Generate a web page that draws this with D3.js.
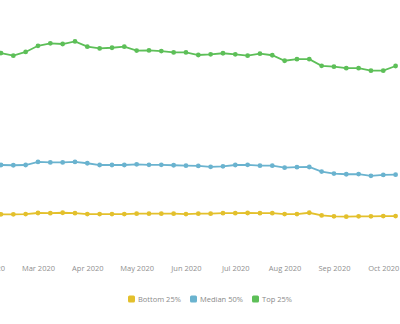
<!DOCTYPE html>
<html>
<head>
<meta charset="utf-8">
<script src="https://cdn.jsdelivr.net/npm/d3@7"></script>
<style>
  body { margin: 0; background: #fff; }
  svg { display: block; font-family: "Open Sans", "Noto Sans", sans-serif; }
</style>
</head>
<body>
<div id="chart"></div>
<script>
const width = 400
const height = 324

// weekly periods, 4 per month
const weeks = [
    "2020-02 W2", "2020-02 W3", "2020-02 W4",
    "2020-03 W1", "2020-03 W2", "2020-03 W3", "2020-03 W4",
    "2020-04 W1", "2020-04 W2", "2020-04 W3", "2020-04 W4",
    "2020-05 W1", "2020-05 W2", "2020-05 W3", "2020-05 W4",
    "2020-06 W1", "2020-06 W2", "2020-06 W3", "2020-06 W4",
    "2020-07 W1", "2020-07 W2", "2020-07 W3", "2020-07 W4",
    "2020-08 W1", "2020-08 W2", "2020-08 W3", "2020-08 W4",
    "2020-09 W1", "2020-09 W2", "2020-09 W3", "2020-09 W4",
    "2020-10 W1", "2020-10 W2"
]
const monthLabels = ["Feb 2020", "Mar 2020", "Apr 2020", "May 2020", "Jun 2020",
    "Jul 2020", "Aug 2020", "Sep 2020", "Oct 2020"]

const top25 = [91.8, 90.6, 92.3, 95.1, 96.2, 95.9, 97.1, 94.7, 93.9, 94.2, 94.7,
    92.9, 93.0, 92.7, 92.1, 92.1, 90.9, 91.2, 91.7, 91.2, 90.6, 91.5, 90.8,
    88.3, 89.0, 89.0, 86.0, 85.6, 84.9, 84.9, 83.8, 83.8, 85.9]
const median50 = [40.9, 40.8, 40.9, 42.3, 42.1, 42.1, 42.3, 41.7, 40.9, 40.9, 40.9,
    41.2, 41.0, 41.0, 40.8, 40.6, 40.5, 40.1, 40.3, 40.9, 41.0, 40.6, 40.6,
    39.7, 39.9, 40.0, 37.9, 37.0, 36.7, 36.8, 36.0, 36.4, 36.5]
const bottom25 = [18.5, 18.5, 18.6, 19.1, 19.0, 19.2, 19.0, 18.6, 18.6, 18.6, 18.6,
    18.8, 18.8, 18.8, 18.8, 18.6, 18.8, 18.8, 19.0, 19.0, 19.1, 19.0, 19.0,
    18.6, 18.6, 19.2, 18.0, 17.6, 17.4, 17.6, 17.6, 17.7, 17.7]

const seriesNames = ["Bottom 25%", "Median 50%", "Top 25%"]
const seriesColors = ["#e3c02c", "#6ab3cf", "#5dbf58"]
const seriesValues = [bottom25, median50, top25]

const svg = d3.select("#chart").append("svg")
    .attr("width", width).attr("height", height)

// x on week index; the month ticks sit on each month's first week
var x = d3.scaleLinear().domain([0, weeks.length - 1]).range([1, 395.6])
var y = d3.scaleLinear().domain([0, 100]).range([255, 35])

const monthStarts = monthLabels.map((m, i) => i * 4 - 1)

const axisX = d3.axisBottom(x)
    .tickValues(monthStarts)
    .tickFormat((d, i) => monthLabels[i])
    .tickSize(0)
    .tickPadding(0)

const xGroup = svg.append("g").attr("transform", "translate(0, 266)").call(axisX)
xGroup.select(".domain").remove()
xGroup.selectAll("text")
    .attr("font-size", 7.5)
    .attr("fill", "#8f8f8f")
    .attr("font-family", "Open Sans, sans-serif")

const line = d3.line()
    .x((d, i) => x(i))
    .y(d => y(d))

seriesValues.forEach((vals, s) => {
    const g = svg.append("g")
    g.append("path")
        .datum(vals)
        .attr("d", line)
        .attr("fill", "none")
        .attr("stroke", seriesColors[s])
        .attr("stroke-width", 1.8)
    g.selectAll("circle")
        .data(vals)
        .join("circle")
            .attr("cx", (d, i) => x(i))
            .attr("cy", d => y(d))
            .attr("r", 2.4)
            .attr("fill", seriesColors[s])
})

// legend
const legendX = [128, 190, 252]
const legend = svg.append("g").attr("transform", "translate(0, 299)")
seriesNames.forEach((name, s) => {
    legend.append("rect")
        .attr("x", legendX[s]).attr("y", -3.5)
        .attr("width", 7).attr("height", 7)
        .attr("rx", 1.5)
        .attr("fill", seriesColors[s])
    legend.append("text")
        .attr("x", legendX[s] + 10).attr("y", 2.6)
        .attr("font-size", 7.5)
        .attr("fill", "#8a8a8a")
        .text(name)
})
</script>
</body>
</html>
